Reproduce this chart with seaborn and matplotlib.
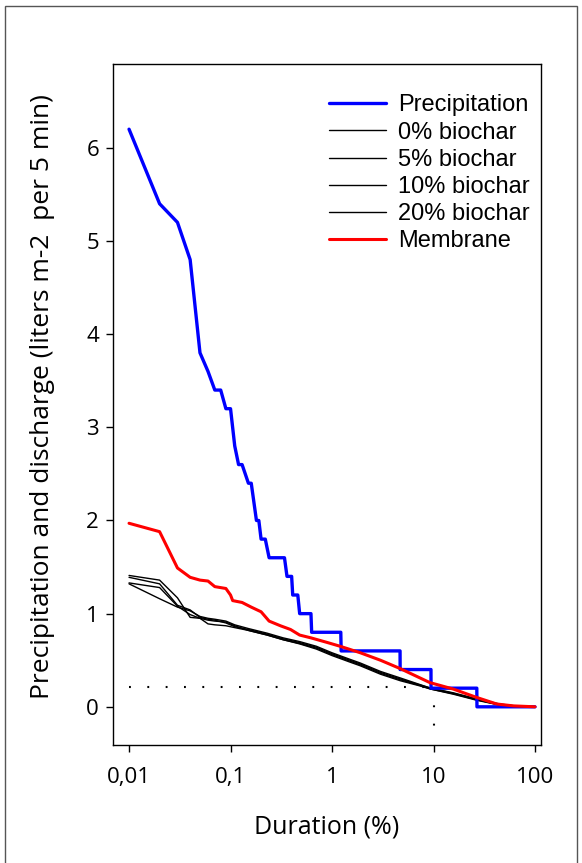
import matplotlib
matplotlib.use("Agg")
import matplotlib.pyplot as plt
import seaborn as sns
import pandas as pd
from matplotlib.patches import Rectangle

# ---------------- data ----------------
precip_x = [0.01, 0.02, 0.03, 0.04, 0.05, 0.06, 0.07, 0.08, 0.09, 0.10, 0.11, 0.12, 0.13,
            0.15, 0.16, 0.18, 0.19, 0.20, 0.22, 0.24, 0.34, 0.36, 0.40, 0.41, 0.46, 0.48,
            0.62, 0.63, 1.22, 1.23, 4.68, 4.69, 9.44, 9.45, 26.7, 26.8, 100]
precip_y = [6.2, 5.4, 5.2, 4.8, 3.8, 3.6, 3.4, 3.4, 3.2, 3.2, 2.8, 2.6, 2.6,
            2.4, 2.4, 2.0, 2.0, 1.8, 1.8, 1.6, 1.6, 1.4, 1.4, 1.2, 1.2, 1.0,
            1.0, 0.8, 0.8, 0.6, 0.6, 0.4, 0.4, 0.2, 0.2, 0.0, 0.0]

biochar_x = [0.01, 0.02, 0.03, 0.04, 0.05, 0.06, 0.07, 0.09, 0.11, 0.15, 0.23, 0.33, 0.48,
             0.7, 1.0, 1.5, 1.9, 3.0, 4.7, 7.3, 9.4, 15.7, 26.7, 45, 70, 100]
biochar_0 = [1.41, 1.36, 1.17, 0.96, 0.95, 0.89, 0.88, 0.87, 0.85, 0.82, 0.77, 0.72, 0.68,
             0.63, 0.56, 0.49, 0.45, 0.36, 0.29, 0.23, 0.19, 0.14, 0.075, 0.02, 0.003, 0.0]
biochar_5 = [1.39, 1.32, 1.09, 1.04, 0.96, 0.94, 0.93, 0.90, 0.86, 0.83, 0.78, 0.73, 0.69,
             0.64, 0.57, 0.50, 0.46, 0.37, 0.30, 0.235, 0.20, 0.145, 0.08, 0.025, 0.004, 0.0]
biochar_10 = [1.33, 1.28, 1.08, 0.99, 0.95, 0.93, 0.92, 0.91, 0.87, 0.82, 0.77, 0.72, 0.675,
              0.62, 0.55, 0.48, 0.44, 0.35, 0.28, 0.225, 0.19, 0.135, 0.07, 0.018, 0.002, 0.0]
biochar_20 = [1.32, 1.16, 1.07, 1.03, 0.97, 0.95, 0.94, 0.92, 0.88, 0.84, 0.79, 0.74, 0.70,
              0.65, 0.58, 0.51, 0.47, 0.38, 0.31, 0.24, 0.20, 0.15, 0.085, 0.03, 0.005, 0.0]

membrane_x = [0.01, 0.02, 0.03, 0.04, 0.05, 0.06, 0.07, 0.09, 0.10, 0.105, 0.13, 0.16, 0.20,
              0.24, 0.31, 0.39, 0.48, 0.62, 0.9, 1.2, 1.9, 3.0, 4.7, 9.2, 15.7, 26.7, 42, 61, 100]
membrane_y = [1.97, 1.88, 1.49, 1.39, 1.36, 1.35, 1.29, 1.27, 1.20, 1.14, 1.12, 1.07, 1.02,
              0.92, 0.87, 0.83, 0.77, 0.74, 0.69, 0.65, 0.58, 0.50, 0.41, 0.26, 0.19, 0.10,
              0.03, 0.01, 0.0]

ref_x = 10      # dotted reference: duration 10 %
ref_y = 0.21    # dotted reference: discharge level
ref_ymin = -0.32

x_ticks = [0.01, 0.1, 1, 10, 100]
x_ticklabels = ["0,01", "0,1", "1", "10", "100"]
y_ticks = [0, 1, 2, 3, 4, 5, 6]

# ---------------- plot ----------------
sns.set_style("ticks")
plt.rcParams["font.family"] = ["Liberation Sans", "DejaVu Sans"]
plt.rcParams["text.color"] = "black"
plt.rcParams["axes.labelcolor"] = "black"
plt.rcParams["xtick.color"] = "black"
plt.rcParams["ytick.color"] = "black"

W, H = 582, 863
fig = plt.figure(figsize=(W / 100, H / 100), dpi=100)
ax = fig.add_axes([113 / W, 1 - 745 / H, (541 - 113) / W, (745 - 64) / H])

series = [
    ("Precipitation", precip_x, precip_y, "#0000ff", 2.4),
    ("0% biochar", biochar_x, biochar_0, "black", 1.0),
    ("5% biochar", biochar_x, biochar_5, "black", 1.0),
    ("10% biochar", biochar_x, biochar_10, "black", 1.0),
    ("20% biochar", biochar_x, biochar_20, "black", 1.0),
    ("Membrane", membrane_x, membrane_y, "#ff0000", 2.2),
]

# dotted reference lines
ax.plot([x_ticks[0], ref_x], [ref_y, ref_y], color="black", lw=1.5,
        linestyle=(0, (0.9, 7.9)), zorder=1)
ax.plot([ref_x, ref_x], [ref_y, ref_ymin], color="black", lw=1.5,
        linestyle=(0, (0.9, 7.9)), zorder=1)

for name, xs, ys, col, lw in series:
    df = pd.DataFrame({"x": xs, "y": ys})
    sns.lineplot(data=df, x="x", y="y", ax=ax, color=col, lw=lw, sort=False,
                 estimator=None, label=name, zorder=3 if col != "black" else 2)

ax.set_xscale("log")
ax.set_xlim(10 ** -2.158, 10 ** 2.059)
ax.set_ylim(-0.41, 6.9)
ax.set_xticks(x_ticks)
ax.set_xticklabels(x_ticklabels)
ax.minorticks_off()
ax.set_yticks(y_ticks)
ax.set_yticklabels([str(v) for v in y_ticks])

for s in ax.spines.values():
    s.set_visible(True)
    s.set_linewidth(1.0)
    s.set_color("black")

for lab in ax.get_xticklabels() + ax.get_yticklabels():
    lab.set_fontfamily(["Open Sans", "DejaVu Sans"])
    lab.set_fontsize(16)
    lab.set_color("black")
ax.tick_params(axis="both", direction="out", length=5, width=1.0, color="black")
ax.tick_params(axis="x", pad=11)
ax.tick_params(axis="y", pad=5)

ax.set_xlabel("Duration (%)", fontfamily=["Open Sans", "DejaVu Sans"], fontsize=18,
              labelpad=19, color="black")
ax.set_ylabel("Precipitation and discharge (liters m-2  per 5 min)",
              fontfamily=["Open Sans", "DejaVu Sans"], fontsize=19, labelpad=18,
              color="black")
ax.yaxis.set_label_coords(-0.1355, 0.5 + 8 / 681)

leg = ax.legend(loc="upper right", bbox_to_anchor=(1.0 + 11 / 428, 1.0 - 8 / 681),
                frameon=False, fontsize=17, handlelength=2.4, handletextpad=0.5,
                labelspacing=0.22, borderaxespad=0.55)

# outer frame of the figure
fig.patches.append(Rectangle((5 / W, -0.05), (577 - 5) / W, 1.05 - 6 / H,
                             transform=fig.transFigure, fill=False,
                             edgecolor="#555555", lw=1.0))

fig.savefig("out.png", dpi=100)
